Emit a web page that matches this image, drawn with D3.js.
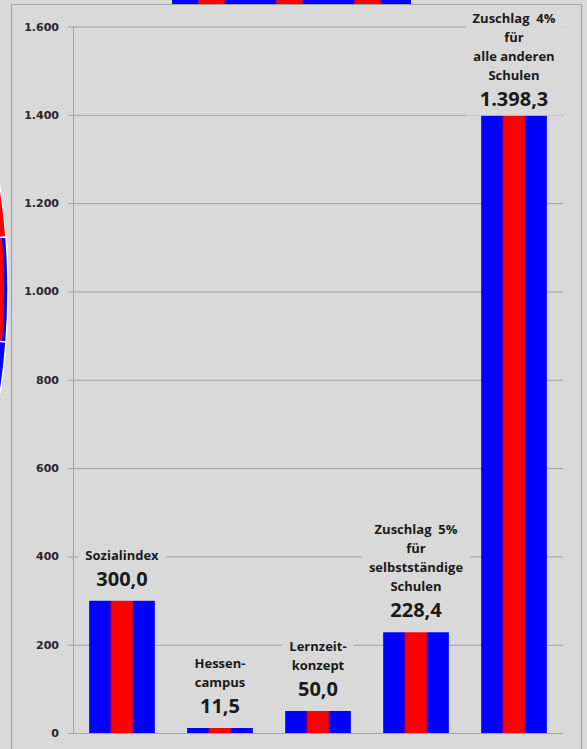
<!DOCTYPE html>
<html>
<head>
<meta charset="utf-8">
<script src="https://cdn.jsdelivr.net/npm/d3@7"></script>
<style>
  body { margin: 0; background: #d9d9d9; }
  svg { display: block; }
</style>
</head>
<body>
<svg id="chart" width="587" height="749"></svg>
<script>
// values
const categories = ['Sozialindex', 'Hessencampus', 'Lernzeitkonzept', 'Zuschlag 5%', 'Zuschlag 4%']
const labelLines = [
  ['Sozialindex'],
  ['Hessen-', 'campus'],
  ['Lernzeit-', 'konzept'],
  ['Zuschlag  5%', 'für', 'selbstständige', 'Schulen'],
  ['Zuschlag  4%', 'für', 'alle anderen', 'Schulen'],
]
const values = [300.0, 11.5, 50.0, 228.4, 1398.3]
const yTicks = [0, 200, 400, 600, 800, 1000, 1200, 1400, 1600]

// bits of the neighbouring charts that poke into the frame
const topBars = ['a', 'b', 'c']
const pieSlices = [
  { y0: 180, y1: 237, fill: 'red' },
  { y0: 237, y1: 342, fill: 'blue', inner: 'red' },
  { y0: 342, y1: 392, fill: 'blue' },
]

const BG = '#d9d9d9'
const GRID = '#a3a3a3'
const INK = '#1a1a1a'
const de = d3.formatLocale({ decimal: ',', thousands: '.', grouping: [3], currency: ['', '€'] })
const fmtTick = de.format(',d')
const fmtVal = de.format(',.1f')

const svg = d3.select('#chart')

const defs = svg.append('defs')
const grad = defs.append('linearGradient').attr('id', 'stripe').attr('x1', 0).attr('x2', 1).attr('y1', 0).attr('y2', 0)
;[[0, 'blue'], [0.31, 'blue'], [0.35, 'red'], [0.65, 'red'], [0.69, 'blue'], [1, 'blue']]
  .forEach(([o, c]) => grad.append('stop').attr('offset', o).attr('stop-color', c))
defs.append('clipPath').attr('id', 'leftClip').append('rect').attr('x', 0).attr('y', 0).attr('width', 10).attr('height', 749)

// --- neighbours ---
const xTop = d3.scaleBand().domain(topBars).range([172, 406])
svg.append('g').selectAll('rect').data(topBars).join('rect')
  .attr('x', d => xTop(d)).attr('y', 0)
  .attr('width', xTop.bandwidth() + 1).attr('height', 4)
  .attr('fill', 'url(#stripe)')
svg.append('rect').attr('x', 400).attr('y', 0).attr('width', 11).attr('height', 4).attr('fill', 'blue')

const pie = { cx: -672, cy: 290, r: 680 }
const angleAt = y => Math.acos((pie.cy - y) / pie.r)
const pieG = svg.append('g').attr('clip-path', 'url(#leftClip)')
  .append('g').attr('transform', `translate(${[pie.cx, pie.cy]})`)
pieSlices.forEach(s => {
  const arc = d3.arc().innerRadius(0).outerRadius(pie.r)
    .startAngle(angleAt(s.y0)).endAngle(angleAt(s.y1))
  pieG.append('path').attr('d', arc()).attr('fill', s.fill)
    .attr('stroke', 'white').attr('stroke-width', 1.5)
  if (s.inner) {
    const inner = d3.arc().innerRadius(0).outerRadius(pie.r - 4)
      .startAngle(angleAt(s.y0) + 0.002).endAngle(angleAt(s.y1) - 0.002)
    pieG.append('path').attr('d', inner()).attr('fill', s.inner)
  }
})

// --- frame ---
svg.append('path')
  .attr('d', 'M11.5,749V4.5H581.5V749')
  .attr('fill', 'none').attr('stroke', GRID).attr('stroke-width', 1.2)

// --- scales ---
const x = d3.scaleBand().domain(categories).range([73, 563]).paddingInner(0.33).paddingOuter(0.165)
const y = d3.scaleLinear().domain([0, 1600]).range([733, 26.5])

// gridlines
svg.append('g').attr('class', 'grid')
  .attr('transform', `translate(${x.range()[0]},0)`)
  .call(d3.axisLeft(y).tickValues(yTicks).tickSizeInner(-(x.range()[1] - x.range()[0])).tickSizeOuter(0).tickFormat(''))
  .call(g => g.select('.domain').remove())
  .call(g => g.selectAll('line').attr('stroke', GRID).attr('stroke-width', 1))

// y axis
svg.append('g').attr('class', 'axis-y')
  .attr('transform', `translate(${x.range()[0]},0)`)
  .call(d3.axisLeft(y).tickValues(yTicks).tickSizeInner(5).tickSizeOuter(0).tickPadding(9).tickFormat(fmtTick))
  .call(g => g.select('.domain').attr('stroke', GRID))
  .call(g => g.selectAll('line').attr('stroke', GRID))
  .call(g => g.selectAll('text')
    .attr('fill', '#262626')
    .style('font-family', 'DejaVu Sans')
    .style('font-weight', 'bold')
    .style('font-size', '11px'))

// bars
svg.append('g').selectAll('rect').data(categories).join('rect')
  .attr('x', d => x(d))
  .attr('y', (d, i) => y(values[i]))
  .attr('width', x.bandwidth())
  .attr('height', (d, i) => y(0) - y(values[i]))
  .attr('fill', 'url(#stripe)')

// labels (with a background box that hides the gridlines)
const labels = svg.append('g')
categories.forEach((cat, i) => {
  const lines = labelLines[i]
  const top = y(values[i])
  const cx = x(cat) + x.bandwidth() / 2
  let valBase = top - 15
  let firstBase = valBase - 26 - 19 * (lines.length - 1)
  const shift = Math.max(0, 23 - firstBase)
  valBase += shift
  firstBase += shift

  const g = labels.append('g')
  const box = g.append('rect').attr('fill', BG)
  const texts = lines.map((t, k) => g.append('text')
    .attr('x', cx).attr('y', firstBase + 19 * k)
    .attr('text-anchor', 'middle').attr('fill', INK)
    .style('font-family', 'Open Sans').style('font-weight', 'bold').style('font-size', '13px')
    .style('white-space', 'pre')
    .text(t))
  const val = g.append('text')
    .attr('x', cx).attr('y', valBase)
    .attr('text-anchor', 'middle').attr('fill', INK)
    .style('font-family', 'Open Sans').style('font-weight', 'bold').style('font-size', '20px')
    .text(fmtVal(values[i]))
  const w = d3.max(texts.concat([val]), t => t.node().getComputedTextLength())
  box.attr('x', cx - w / 2 - 7).attr('y', firstBase - 14)
    .attr('width', w + 14).attr('height', top - (firstBase - 14))
})
</script>
</body>
</html>
